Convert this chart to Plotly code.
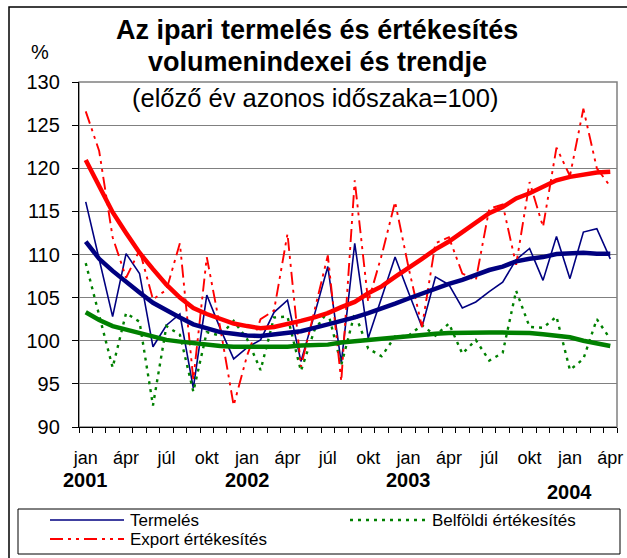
import plotly.graph_objects as go

# ---------------- data (monthly, jan 2001 - apr 2004) ----------------
tick_labels = ["jan", "ápr", "júl", "okt", "jan", "ápr", "júl", "okt",
               "jan", "ápr", "júl", "okt", "jan", "ápr"]
years = ["2001", "2002", "2003", "2004"]

termeles = [116.1, 109.4, 102.8, 110.1, 107.8, 99.3, 101.8, 103.1, 94.5, 105.3,
            101.4, 97.9, 99.2, 100.1, 103.3, 104.7, 97.6, 103.0, 108.6, 97.4,
            111.3, 100.3, 105.0, 109.7, 105.6, 101.6, 107.4, 106.5, 103.8, 104.5,
            105.7, 106.8, 109.4, 110.7, 107.0, 112.1, 107.2, 112.6, 113.0, 109.5]

belfoldi = [109.0, 103.0, 96.9, 103.2, 102.2, 92.5, 101.7, 100.7, 94.1, 101.0,
            100.6, 102.3, 100.2, 96.6, 102.7, 102.8, 96.5, 101.2, 103.4, 97.2,
            103.2, 99.1, 98.2, 100.5, 100.6, 101.8, 100.6, 102.0, 98.5, 100.1,
            97.7, 98.6, 105.8, 101.6, 101.5, 102.8, 96.6, 97.9, 102.5, 100.2]

export = [126.6, 122.0, 112.0, 107.3, 110.5, 104.8, 105.9, 111.3, 95.5, 109.7,
          101.5, 92.5, 98.3, 102.5, 103.5, 112.4, 97.0, 103.5, 109.9, 95.3,
          118.6, 104.5, 109.9, 116.1, 108.5, 101.6, 111.3, 112.0, 107.8, 107.0,
          115.3, 115.8, 108.8, 118.4, 113.2, 122.4, 119.1, 126.9, 120.0, 117.9]

trend_termeles = [111.5, 109.5, 108.1, 106.8, 105.6, 104.4, 103.5, 102.7, 101.9, 101.4,
                  101.0, 100.8, 100.6, 100.55, 100.7, 100.85, 101.1, 101.5, 101.9, 102.2,
                  102.7, 103.2, 103.7, 104.3, 104.9, 105.5, 106.1, 106.6, 107.05, 107.6,
                  108.2, 108.6, 109.2, 109.5, 109.7, 110.05, 110.1, 110.2, 110.1, 110.1]

trend_export = [120.95, 117.8, 114.9, 112.5, 110.2, 108.3, 106.5, 105.0, 103.8, 103.1,
                102.5, 102.0, 101.7, 101.45, 101.6, 101.9, 102.3, 102.7, 103.2, 103.9,
                104.5, 105.5, 106.3, 107.4, 108.4, 109.5, 110.6, 111.5, 112.6, 113.7,
                114.8, 115.5, 116.5, 117.1, 117.9, 118.6, 119.0, 119.3, 119.5, 119.6]

trend_belfoldi = [103.3, 102.4, 101.7, 101.3, 100.85, 100.4, 100.1, 99.9, 99.7, 99.55,
                  99.4, 99.3, 99.3, 99.3, 99.3, 99.3, 99.45, 99.5, 99.55, 99.8,
                  99.95, 100.1, 100.3, 100.45, 100.6, 100.7, 100.8, 100.9, 100.95, 100.95,
                  100.95, 100.95, 100.95, 100.9, 100.75, 100.6, 100.4, 100.0, 99.7, 99.4]

series_names = ["Termelés", "Belföldi értékesítés", "Export értékesítés"]

n = len(termeles)
x = list(range(n))
tick_pos = list(range(0, n, 3))
year_pos = list(range(0, n, 12))

FONT = "Liberation Sans, Arial, sans-serif"
NAVY = "#000080"
GREEN = "#008000"
RED = "#FF0000"

line_t = dict(color=NAVY, width=1.6)
line_b = dict(color=GREEN, width=2.4, dash="3px,5px")
line_e = dict(color=RED, width=1.9, dash="13px,5px,3px,5px,3px,5px")

fig = go.Figure()
fig.add_trace(go.Scatter(x=x, y=termeles, name=series_names[0], mode="lines",
                         line=line_t, showlegend=False))
fig.add_trace(go.Scatter(x=x, y=belfoldi, name=series_names[1], mode="lines",
                         line=line_b, showlegend=False))
fig.add_trace(go.Scatter(x=x, y=export, name=series_names[2], mode="lines",
                         line=line_e, showlegend=False))
fig.add_trace(go.Scatter(x=x, y=trend_belfoldi, mode="lines", showlegend=False,
                         line=dict(color=GREEN, width=4.5), hoverinfo="skip"))
fig.add_trace(go.Scatter(x=x, y=trend_export, mode="lines", showlegend=False,
                         line=dict(color=RED, width=4.5), hoverinfo="skip"))
fig.add_trace(go.Scatter(x=x, y=trend_termeles, mode="lines", showlegend=False,
                         line=dict(color=NAVY, width=4.5), hoverinfo="skip"))

L, R, T, B = 79, 10, 82, 131
W, H = 627, 558
pw, ph = W - L - R, H - T - B


def px_x(p):
    return (p - L) / pw


def px_y(p):
    return (H - B - p) / ph


ann_list = [
    dict(text="<b>Az ipari termelés és értékesítés</b>", x=px_x(317), y=px_y(30),
         size=27, anchor="center"),
    dict(text="<b>volumenindexei és trendje</b>", x=px_x(317), y=px_y(62), size=27,
         anchor="center"),
    dict(text="(előző év azonos időszaka=100)", x=px_x(315), y=px_y(98), size=25.5,
         anchor="center"),
    dict(text="%", x=px_x(40), y=px_y(52), size=20, anchor="center"),
    # legend labels
    dict(text=series_names[0], x=px_x(128), y=px_y(520), size=17, anchor="left"),
    dict(text=series_names[1], x=px_x(430), y=px_y(520), size=17, anchor="left"),
    dict(text=series_names[2], x=px_x(128), y=px_y(539), size=17, anchor="left"),
]
ann_list = [dict(text=a["text"], x=a["x"], y=a["y"], xref="paper", yref="paper",
                 xanchor=a["anchor"], yanchor="middle", showarrow=False,
                 font=dict(family=FONT, size=a["size"], color="black"))
            for a in ann_list]
for k, (yr, pos) in enumerate(zip(years, year_pos)):
    ypix = 492 if k == len(years) - 1 else 480
    ann_list.append(dict(text="<b>" + yr + "</b>", x=pos, y=px_y(ypix), xref="x",
                         yref="paper", xanchor="center", yanchor="middle",
                         showarrow=False,
                         font=dict(family=FONT, size=20, color="black")))

shapes = [
    # plot-area frame (grey)
    dict(type="rect", xref="paper", yref="paper", x0=0, y0=0, x1=1, y1=1,
         line=dict(color="#808080", width=1.5), layer="below"),
    # outer chart frame
    dict(type="rect", xref="paper", yref="paper", x0=px_x(9), y0=px_y(H + 5),
         x1=px_x(W + 5), y1=px_y(7), line=dict(color="black", width=1.5),
         layer="below"),
    # legend box
    dict(type="rect", xref="paper", yref="paper", x0=px_x(18), y0=px_y(554),
         x1=px_x(620), y1=px_y(509), line=dict(color="black", width=1),
         fillcolor="white", layer="above"),
]
legend_samples = [(line_t, 50, 124, 520), (line_b, 350, 427, 520), (line_e, 50, 124, 539)]
for ln, xa, xb, yy in legend_samples:
    shapes.append(dict(type="line", xref="paper", yref="paper", x0=px_x(xa),
                       x1=px_x(xb), y0=px_y(yy), y1=px_y(yy),
                       line=dict(color=ln["color"], width=ln["width"],
                                 dash=ln.get("dash", "solid"))))

fig.update_layout(
    width=W, height=H,
    margin=dict(l=L, r=R, t=T, b=B, pad=0, autoexpand=False),
    paper_bgcolor="white", plot_bgcolor="white",
    font=dict(family=FONT, color="black"),
    annotations=ann_list,
    showlegend=False,
    shapes=shapes,
    hovermode=False,
)

fig.update_xaxes(
    range=[-0.5, n - 0.5], tickmode="array", tickvals=tick_pos, ticktext=tick_labels,
    ticks="", showline=True, linecolor="black", linewidth=1.2, showgrid=False,
    zeroline=False, tickfont=dict(family=FONT, size=18, color="black"),
    ticklabelstandoff=14,
    minor=dict(tickmode="array", tickvals=[i - 0.5 for i in range(n + 1)],
               ticks="outside", ticklen=5, tickcolor="black", tickwidth=1,
               showgrid=False),
)
fig.update_yaxes(
    range=[90, 130], tick0=90, dtick=5, ticks="outside", ticklen=6, tickcolor="black",
    showline=True, linecolor="black", linewidth=1.2, showgrid=True,
    gridcolor="#808080", gridwidth=1, zeroline=False,
    tickfont=dict(family=FONT, size=20, color="black"), ticklabelstandoff=8,
)

fig.write_html(
    "out.html",
    config={"displayModeBar": False, "staticPlot": True},
    post_script="document.body.style.margin='0';document.body.style.padding='0';"
                "document.documentElement.style.overflow='hidden';",
)
